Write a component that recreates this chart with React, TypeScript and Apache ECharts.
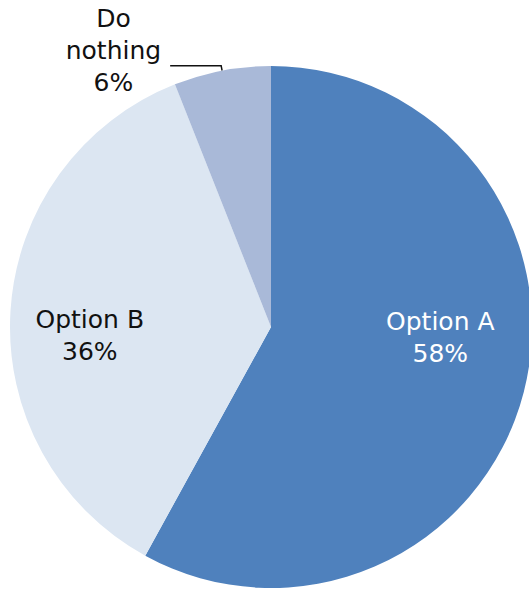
import React, { useEffect, useRef } from "react";
import * as echarts from "echarts";

const categories = ["Option A", "Option B", "Do nothing"];
const values = [58, 36, 6];
const colors = ["#4F81BD", "#DCE6F2", "#A9B9D8"];
const labelColors = ["#FFFFFF", "#111111", "#111111"];
// Excel "best fit" nudges of the inside labels relative to ECharts' default inside spot
const labelShift: [number, number][] = [
  [40, -23],
  [-48, 17],
  [0, 0],
];

export default function App() {
  const ref = useRef<HTMLDivElement>(null);
  useEffect(() => {
    document.body.style.margin = "0";
    const chart = echarts.init(ref.current!, undefined, { renderer: "svg" });
    const font = "DejaVu Sans";
    chart.setOption({
      animation: false,
      backgroundColor: "#FFFFFF",
      series: [
        {
          type: "pie",
          center: [271, 327],
          radius: [0, 261],
          startAngle: 90,
          clockwise: true,
          avoidLabelOverlap: false,
          itemStyle: { borderWidth: 0 },
          label: {
            position: "inside",
            fontFamily: font,
            fontSize: 25,
            lineHeight: 32,
            align: "center",
            formatter: "{b}\n{d}%",
          },
          labelLayout: (p: any) => ({
            dx: labelShift[p.dataIndex][0],
            dy: labelShift[p.dataIndex][1],
          }),
          data: categories.map((name, i) => {
            const item: any = {
              name,
              value: values[i],
              itemStyle: { color: colors[i] },
              label: { color: labelColors[i] },
            };
            if (i === 2) {
              item.label = {
                position: "outside",
                color: labelColors[i],
                fontFamily: font,
                fontSize: 25,
                lineHeight: 32,
                distanceToLabelLine: 9,
                padding: [0, 0, 31, 0],
                formatter: (p: any) =>
                  p.name
                    .split(" ")
                    .map((w: string) => `{c|${w}}`)
                    .join("\n") + `\n{c|${values[p.dataIndex]}%}`,
                rich: {
                  c: {
                    align: "center",
                    fontFamily: font,
                    fontSize: 25,
                    lineHeight: 32,
                    color: labelColors[i],
                  },
                },
              };
              item.labelLine = {
                show: true,
                length: 5,
                length2: 51,
                lineStyle: { color: "#111111", width: 1.5 },
              };
            } else {
              item.labelLine = { show: false };
            }
            return item;
          }),
        },
      ],
    });
    return () => chart.dispose();
  }, []);
  return <div ref={ref} style={{ width: 529, height: 590 }} />;
}
